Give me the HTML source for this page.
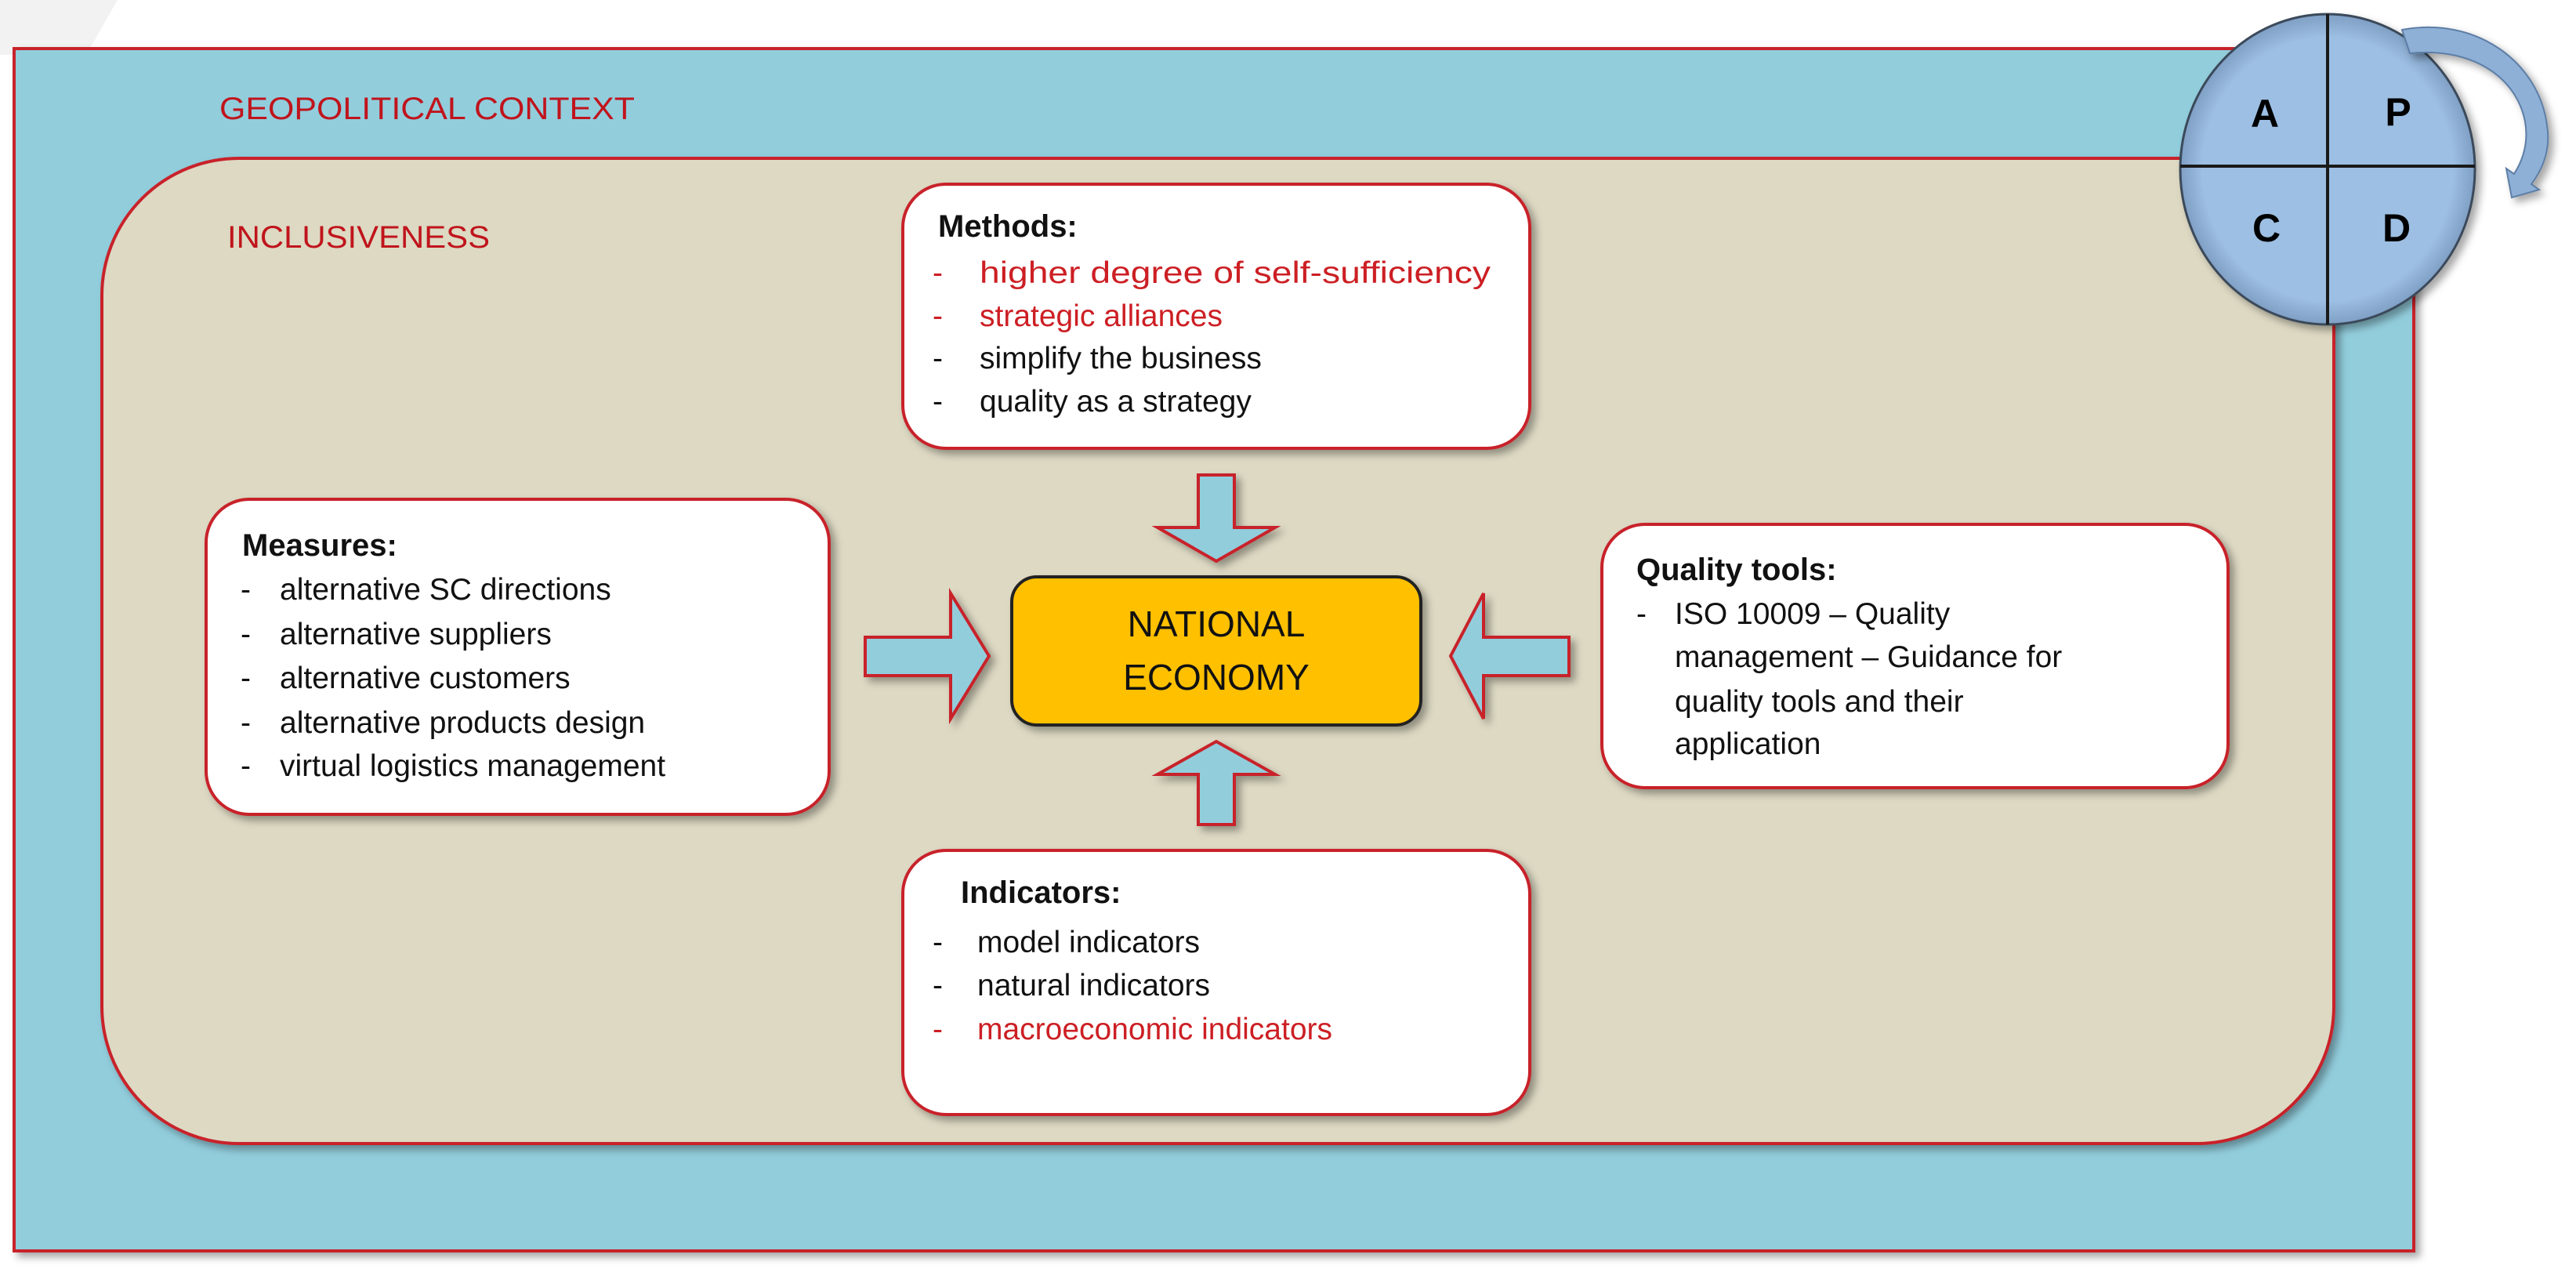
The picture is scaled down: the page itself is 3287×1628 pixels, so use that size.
<!DOCTYPE html>
<html><head><meta charset="utf-8"><style>
html,body{margin:0;padding:0;background:#fff;}
svg{display:block;}
.t{font-family:"Liberation Sans",Arial,sans-serif;font-size:39px;fill:#111;}
.b{font-weight:bold;font-size:40px;}
.r{fill:#cc1f24;}
.c{font-family:"Liberation Sans",sans-serif;fill:#c0141c;font-size:40px;}
</style></head><body>
<svg width="3287" height="1628" viewBox="0 0 3287 1628" xmlns="http://www.w3.org/2000/svg">
<defs>
<filter id="sh" x="-10%" y="-10%" width="130%" height="130%"><feDropShadow dx="6" dy="6" stdDeviation="5" flood-color="#000" flood-opacity="0.35"/></filter>
<radialGradient id="cg" cx="50%" cy="50%" r="50%"><stop offset="85%" stop-color="#9dbfe3"/><stop offset="100%" stop-color="#7f9fc4"/></radialGradient>
</defs>
<polygon points="0,0 150,0 110,70 0,70" fill="#f2f2f2"/>
<rect x="18" y="62" width="3062" height="1534" fill="#92cddc" stroke="#c8242b" stroke-width="4" filter="url(#sh)"/>
<text class="c" x="280" y="152" textLength="530" lengthAdjust="spacingAndGlyphs">GEOPOLITICAL  CONTEXT</text>
<rect x="130" y="202" width="2848" height="1257" rx="175" ry="175" fill="#ddd9c3" stroke="#c8242b" stroke-width="4" filter="url(#sh)"/>
<text class="c" x="290" y="316" textLength="335" lengthAdjust="spacingAndGlyphs">INCLUSIVENESS</text>

<!-- Methods -->
<rect x="1152" y="235" width="800" height="337" rx="55" fill="#fff" stroke="#c8242b" stroke-width="4" filter="url(#sh)"/>
<text class="t b" x="1197" y="302">Methods:</text>
<text class="t r" x="1190" y="361">-</text><text class="t r" x="1250" y="361" textLength="652" lengthAdjust="spacingAndGlyphs">higher degree of self-sufficiency</text>
<text class="t r" x="1190" y="416">-</text><text class="t r" x="1250" y="416">strategic alliances</text>
<text class="t" x="1190" y="470">-</text><text class="t" x="1250" y="470">simplify the business</text>
<text class="t" x="1190" y="525">-</text><text class="t" x="1250" y="525">quality as a strategy</text>

<!-- Measures -->
<rect x="263" y="637" width="795" height="402" rx="55" fill="#fff" stroke="#c8242b" stroke-width="4" filter="url(#sh)"/>
<text class="t b" x="309" y="709">Measures:</text>
<text class="t" x="307" y="765">-</text><text class="t" x="357" y="765">alternative SC directions</text>
<text class="t" x="307" y="822">-</text><text class="t" x="357" y="822">alternative suppliers</text>
<text class="t" x="307" y="878">-</text><text class="t" x="357" y="878">alternative customers</text>
<text class="t" x="307" y="935">-</text><text class="t" x="357" y="935">alternative products design</text>
<text class="t" x="307" y="990">-</text><text class="t" x="357" y="990">virtual logistics management</text>

<!-- Quality tools -->
<rect x="2044" y="669" width="799" height="336" rx="55" fill="#fff" stroke="#c8242b" stroke-width="4" filter="url(#sh)"/>
<text class="t b" x="2088" y="740">Quality tools:</text>
<text class="t" x="2088" y="796">-</text><text class="t" x="2137" y="796">ISO 10009 – Quality</text>
<text class="t" x="2137" y="851">management – Guidance for</text>
<text class="t" x="2137" y="908">quality tools and their</text>
<text class="t" x="2137" y="962">application</text>

<!-- Indicators -->
<rect x="1152" y="1085" width="800" height="337" rx="55" fill="#fff" stroke="#c8242b" stroke-width="4" filter="url(#sh)"/>
<text class="t b" x="1226" y="1152">Indicators:</text>
<text class="t" x="1190" y="1215">-</text><text class="t" x="1247" y="1215">model indicators</text>
<text class="t" x="1190" y="1270">-</text><text class="t" x="1247" y="1270">natural indicators</text>
<text class="t r" x="1190" y="1326">-</text><text class="t r" x="1247" y="1326">macroeconomic indicators</text>

<!-- National economy -->
<rect x="1291" y="736" width="522" height="189" rx="32" fill="#ffc000" stroke="#222" stroke-width="4" filter="url(#sh)"/>
<text x="1552" y="812" text-anchor="middle" style="font-family:'Liberation Sans',sans-serif;font-size:46px;fill:#111">NATIONAL</text>
<text x="1552" y="880" text-anchor="middle" style="font-family:'Liberation Sans',sans-serif;font-size:46px;fill:#111">ECONOMY</text>

<!-- arrows -->
<g fill="#92cddc" stroke="#c8242b" stroke-width="4" filter="url(#sh)">
<polygon points="1529,606 1575,606 1575,673 1627,673 1552,716 1477,673 1529,673"/>
<polygon points="1529,1052 1575,1052 1575,988 1627,988 1552,946 1477,988 1529,988"/>
<polygon points="1104,813 1213,813 1213,757 1262,837 1213,917 1213,862 1104,862"/>
<polygon points="2002,813 1893,813 1893,757 1851,837 1893,917 1893,862 2002,862"/>
</g>

<!-- PDCA -->
<g filter="url(#sh)">
<ellipse cx="2970" cy="216" rx="188" ry="198" fill="url(#cg)" stroke="#3a4a5a" stroke-width="3"/>
</g>
<line x1="2970" y1="18" x2="2970" y2="414" stroke="#1a1a1a" stroke-width="4"/>
<line x1="2782" y1="212" x2="3158" y2="212" stroke="#1a1a1a" stroke-width="4"/>
<g style="font-family:'Liberation Sans',sans-serif;font-weight:bold;font-size:50px;fill:#000" text-anchor="middle">
<text x="2890" y="162">A</text><text x="3060" y="160">P</text>
<text x="2892" y="308">C</text><text x="3058" y="308">D</text>
</g>
<path d="M3065,38 C3160,20 3240,80 3250,160 C3255,190 3245,215 3230,235 L3240,242 L3205,252 L3198,215 L3208,222 C3222,200 3226,178 3222,155 C3210,95 3150,60 3075,68 Z" fill="#8fb0d6" stroke="#5d7ea6" stroke-width="2" filter="url(#sh)"/>
</svg>
</body></html>
